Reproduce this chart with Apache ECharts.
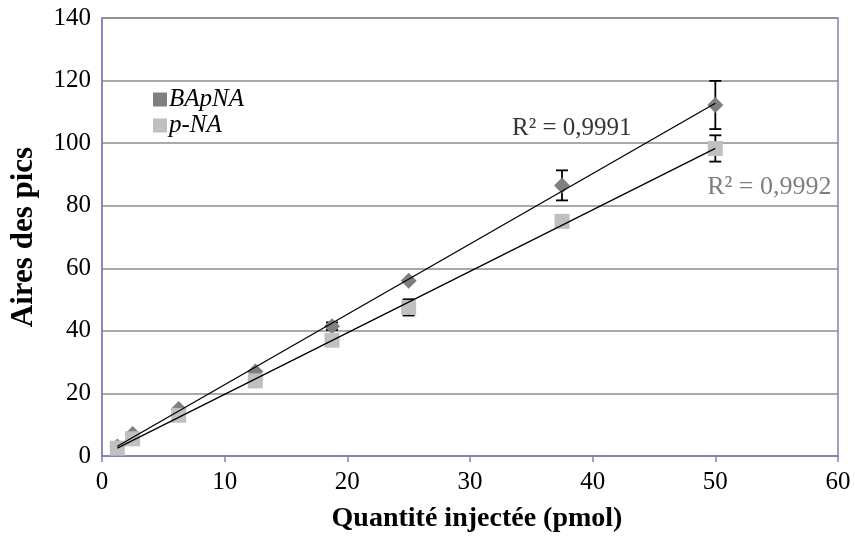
<!DOCTYPE html>
<html>
<head>
<meta charset="utf-8">
<script src="https://cdn.jsdelivr.net/npm/echarts@6/dist/echarts.min.js"></script>
<style>html,body{margin:0;padding:0;background:#fff}#c{width:855px;height:538px}</style>
</head>
<body>
<div id="c"></div>
<script>
const quantities = [1.25, 2.5, 6.25, 12.5, 18.75, 25, 37.5, 50];
const bapnaValues = [3, 7, 15, 27, 41.5, 56, 86.5, 112.2];
const bapnaErrors = [0, 0, 0, 0, 1.2, 0, 4.8, 7.7];
const pnaValues = [2.5, 5.5, 13, 24, 37, 47.5, 75, 98.3];
const pnaErrors = [0, 0, 0, 0, 0, 2.6, 0, 4.2];
const seriesNames = ['BApNA', 'p-NA'];
const r2Labels = ['R² = 0,9991', 'R² = 0,9992'];
const r2Positions = [[38.3, 104.8], [54.4, 86]];
const xTicks = [0, 10, 20, 30, 40, 50, 60];
const yTicks = [0, 20, 40, 60, 80, 100, 120, 140];

function fit(xs, ys) {
  const n = xs.length;
  const mx = xs.reduce((a, b) => a + b, 0) / n;
  const my = ys.reduce((a, b) => a + b, 0) / n;
  let sxx = 0, sxy = 0;
  for (let i = 0; i < n; i++) { sxx += (xs[i] - mx) ** 2; sxy += (xs[i] - mx) * (ys[i] - my); }
  const b = sxy / sxx, a = my - b * mx;
  const x0 = xs[0], x1 = xs[n - 1];
  return [[x0, a + b * x0], [x1, a + b * x1]];
}
function errData(vals, errs) {
  const out = [];
  vals.forEach((v, i) => { if (errs[i] > 0) out.push([quantities[i], v - errs[i], v + errs[i]]); });
  return out;
}
function errRender(params, api) {
  const x = api.value(0);
  const lo = api.coord([x, api.value(1)]);
  const hi = api.coord([x, api.value(2)]);
  const w = 6;
  const st = { stroke: '#000', lineWidth: 1.8 };
  return { type: 'group', children: [
    { type: 'line', shape: { x1: lo[0], y1: lo[1], x2: hi[0], y2: hi[1] }, style: st },
    { type: 'line', shape: { x1: lo[0] - w, y1: lo[1], x2: lo[0] + w, y2: lo[1] }, style: st },
    { type: 'line', shape: { x1: hi[0] - w, y1: hi[1], x2: hi[0] + w, y2: hi[1] }, style: st }
  ]};
}
const font = '"Liberation Serif", "Times New Roman", serif';
const purple = '#8282b2';
const chart = echarts.init(document.getElementById('c'));
chart.setOption({
  animation: false,
  textStyle: { fontFamily: font },
  grid: { left: 100, right: 17, top: 18, bottom: 78, show: true, borderColor: purple, borderWidth: 1.5 },
  legend: {
    data: seriesNames, orient: 'vertical', left: 148, top: 82, itemGap: 1,
    icon: 'rect', itemWidth: 14, itemHeight: 14,
    textStyle: { fontFamily: font, fontStyle: 'italic', fontSize: 25, color: '#000', padding: [0, 0, 0, -3] }
  },
  xAxis: {
    type: 'value', min: 0, max: 60, interval: 10,
    name: 'Quantité injectée (pmol)', nameLocation: 'middle', nameGap: 49,
    nameTextStyle: { fontFamily: font, fontWeight: 'bold', fontSize: 28, color: '#000', padding: [0, 0, 0, 14] },
    axisLine: { show: true, lineStyle: { color: purple, width: 1.5 } },
    axisTick: { show: true, length: 6, lineStyle: { color: purple, width: 1.5 } },
    axisLabel: { fontSize: 25, color: '#000', margin: 14, formatter: v => xTicks.includes(v) ? String(v) : '' },
    splitLine: { show: false }
  },
  yAxis: {
    type: 'value', min: 0, max: 140, interval: 20,
    name: 'Aires des pics', nameLocation: 'middle', nameGap: 63,
    nameTextStyle: { fontFamily: font, fontWeight: 'bold', fontSize: 31, color: '#000' },
    axisLine: { show: true, lineStyle: { color: purple, width: 1.5 } },
    axisTick: { show: false },
    axisLabel: { fontSize: 25, color: '#000', margin: 11, formatter: v => yTicks.includes(v) ? String(v) : '' },
    splitLine: { show: true, lineStyle: { color: '#8c8c8c', width: 1.5 } }
  },
  series: [
    { type: 'custom', name: 'errB', renderItem: errRender, data: errData(bapnaValues, bapnaErrors), z: 1 },
    { type: 'custom', name: 'errP', renderItem: errRender, data: errData(pnaValues, pnaErrors), z: 1 },
    { type: 'scatter', name: seriesNames[0], symbol: 'diamond', symbolSize: 16,
      itemStyle: { color: '#7f7f7f', opacity: 1 }, data: quantities.map((x, i) => [x, bapnaValues[i]]), z: 2 },
    { type: 'scatter', name: seriesNames[1], symbol: 'rect', symbolSize: 15,
      itemStyle: { color: '#c0c0c0', opacity: 1 }, data: quantities.map((x, i) => [x, pnaValues[i]]), z: 3 },
    { type: 'line', name: 'fitB', data: fit(quantities, bapnaValues), symbol: 'none', z: 4,
      lineStyle: { color: '#000', width: 1.3 } },
    { type: 'line', name: 'fitP', data: fit(quantities, pnaValues), symbol: 'none', z: 4,
      lineStyle: { color: '#000', width: 1.3 } },
    { type: 'scatter', name: 'r2', symbolSize: 0, z: 5, silent: true,
      data: [
        { value: r2Positions[0], label: { show: true, position: 'inside', formatter: r2Labels[0], fontFamily: font, fontSize: 25, color: '#000' } },
        { value: r2Positions[1], label: { show: true, position: 'inside', formatter: r2Labels[1], fontFamily: font, fontSize: 26, color: '#5f5f5f' } }
      ] }
  ]
});
</script>
</body>
</html>
